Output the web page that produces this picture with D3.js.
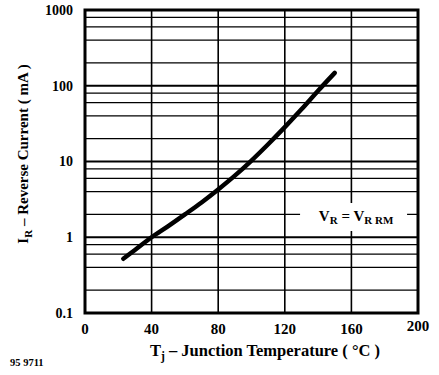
<!DOCTYPE html>
<html lang="en">
<head>
    <meta charset="UTF-8" />
    <title>Reverse Current vs Junction Temperature</title>
    <script src="https://cdn.jsdelivr.net/npm/d3@7"></script>
    <style>
        body { margin: 0; background: #fff; }
        text { font-family: "Liberation Serif", "DejaVu Serif", serif; fill: #000; }
    </style>
</head>
<body>
    <svg width="439" height="375"></svg>
    <script>
        // data
        const temps = [23, 30, 40, 50, 60, 70, 80, 90, 100, 110, 120, 130, 140, 150];
        const current = [0.52, 0.68, 1.0, 1.4, 2.0, 2.88, 4.27, 6.5, 10.3, 16.9, 28.4, 48.8, 86, 148];
        const xTicks = [0, 40, 80, 120, 160, 200];
        const yTicks = [0.1, 1, 10, 100, 1000];
        const yTickLabels = ["0.1", "1", "10", "100", "1000"];
        const minorSteps = [2, 4, 6, 8];

        const svg = d3.select("svg");
        const plotL = 85, plotR = 418, plotT = 10, plotB = 313;

        const x = d3.scaleLinear().domain([0, 200]).range([plotL, plotR]);
        const y = d3.scaleLog().domain([0.1, 1000]).range([plotB, plotT]);

        const grid = svg.append("g").attr("stroke", "#000");

        // horizontal grid: 2,4,6,8 in each decade plus the decade lines
        const minor = [];
        yTicks.slice(0, -1).forEach(d => minorSteps.forEach(m => minor.push(d * m)));
        grid.selectAll(".hmin").data(minor).join("line")
            .attr("x1", plotL).attr("x2", plotR)
            .attr("y1", d => y(d)).attr("y2", d => y(d))
            .attr("stroke-width", 1.3);
        grid.selectAll(".hmaj").data(yTicks.slice(1, -1)).join("line")
            .attr("x1", plotL).attr("x2", plotR)
            .attr("y1", d => y(d)).attr("y2", d => y(d))
            .attr("stroke-width", 2);

        grid.selectAll(".v").data(xTicks.slice(1, -1)).join("line")
            .attr("x1", d => x(d)).attr("x2", d => x(d))
            .attr("y1", plotT).attr("y2", plotB)
            .attr("stroke-width", 1.6);

        // label box hides the grid under it
        const lab = svg.append("g").attr("transform", `translate(${x(161)},${y(1.85)})`);
        lab.append("rect").attr("x", -53).attr("y", -14).attr("width", 107).attr("height", 28).attr("fill", "#fff");
        const lt = lab.append("text").attr("text-anchor", "middle").attr("x", 3).attr("y", 4)
            .attr("font-size", 15).attr("font-weight", "bold");
        lt.append("tspan").text("V");
        lt.append("tspan").attr("font-size", 11).attr("dy", 3).text("R");
        lt.append("tspan").attr("dy", -3).text(" = V");
        lt.append("tspan").attr("font-size", 11).attr("dy", 3).text("R RM");

        // frame
        svg.append("rect")
            .attr("x", plotL).attr("y", plotT)
            .attr("width", plotR - plotL).attr("height", plotB - plotT)
            .attr("fill", "none").attr("stroke", "#000").attr("stroke-width", 3);

        // curve
        const line = d3.line()
            .x((d, i) => x(temps[i]))
            .y(d => y(d))
            .curve(d3.curveCatmullRom);
        svg.append("path")
            .attr("d", line(current))
            .attr("fill", "none").attr("stroke", "#000")
            .attr("stroke-width", 4.5).attr("stroke-linecap", "round");

        // tick labels
        svg.selectAll(".yl").data(yTicks).join("text")
            .attr("x", plotL - 12).attr("y", d => y(d))
            .attr("dy", "0.35em").attr("text-anchor", "end")
            .attr("font-size", 14).attr("font-weight", "bold")
            .text((d, i) => yTickLabels[i]);

        svg.selectAll(".xl").data(xTicks).join("text")
            .attr("x", d => x(d)).attr("y", d => d === 200 ? plotB + 18 : plotB + 21)
            .attr("text-anchor", "middle")
            .attr("font-size", 15).attr("font-weight", "bold")
            .text(d => d);

        // axis titles
        const xt = svg.append("text")
            .attr("x", 265).attr("y", 356).attr("text-anchor", "middle")
            .attr("font-size", 16.5).attr("font-weight", "bold");
        xt.append("tspan").text("T");
        xt.append("tspan").attr("font-size", 11.5).attr("dy", 4).text("j");
        xt.append("tspan").attr("dy", -4).text(" \u2013 Junction Temperature ( \u00b0C )");

        const yt = svg.append("text")
            .attr("transform", `translate(28,154) rotate(-90)`)
            .attr("text-anchor", "middle")
            .attr("font-size", 15).attr("font-weight", "bold");
        yt.append("tspan").text("I");
        yt.append("tspan").attr("font-size", 11).attr("dy", 4).text("R");
        yt.append("tspan").attr("dy", -4).text(" \u2013 Reverse Current ( mA )");

        svg.append("text")
            .attr("x", 10).attr("y", 366)
            .attr("font-size", 10.5).attr("font-weight", "bold")
            .text("95 9711");
    </script>
</body>
</html>
